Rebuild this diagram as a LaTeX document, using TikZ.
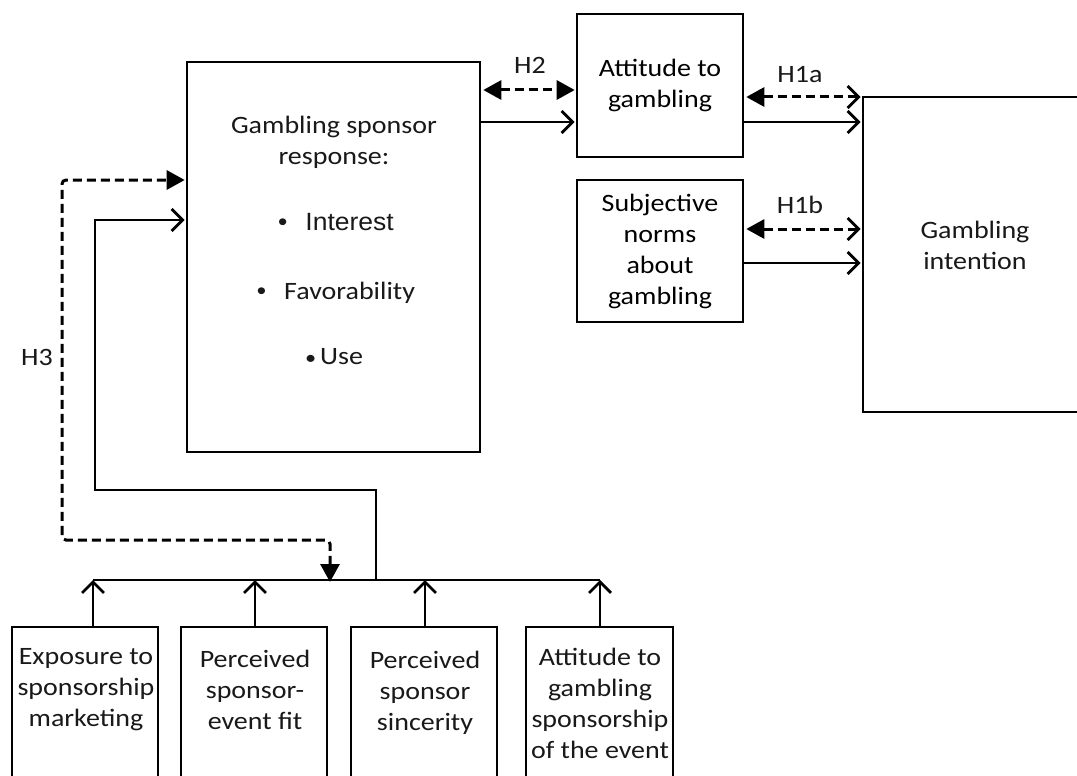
\documentclass[tikz,border=0pt]{standalone}
\usepackage{fontspec}
\setmainfont{Carlito}[FakeStretch=1.12]
\newfontfamily\arialf{Liberation Sans}[FakeStretch=1.06]
\usetikzlibrary{arrows.meta}
\tikzset{
  box/.style={draw, line width=2.6pt, rectangle, inner sep=0pt, align=center, font=\txtfont},
  txt/.style={inner sep=0pt, align=center, font=\txtfont, text=black!90},
  solidarrow/.style={line width=2.8pt, -{Straight Barb[length=11pt,width=22pt,line width=2.8pt]}},
  dsh/.style={line width=3pt, dash pattern=on 9pt off 5pt},
  filltip/.tip={Triangle[length=18pt,width=19pt]},
  openbarb/.tip={Straight Barb[length=11pt,width=22pt,line width=2.8pt]},
  plain/.style={line width=2.8pt}
}
\newcommand{\txtfont}{\fontsize{25}{31}\selectfont}
\begin{document}
\begin{tikzpicture}[x=1pt,y=-1pt]
\useasboundingbox (0,0) rectangle (1077,776);
\fill[white] (0,0) rectangle (1077,776);
\clip (0,0) rectangle (1077,776);
% boxes
\node[box, minimum width=293pt, minimum height=390pt] (gsr) at (333.5,257) {};
\node[box, minimum width=166pt, minimum height=143pt] (att) at (660,85.5) {Attitude to\\gambling};
\node[box, minimum width=166pt, minimum height=142pt] (sn) at (660,251) {Subjective\\norms\\about\\gambling};
\node[box, minimum width=227pt, minimum height=315pt] (int) at (976.5,254.5) {};
\node[box, minimum width=146pt, minimum height=163pt] (b1) at (85,708.5) {};
\node[box, minimum width=146pt, minimum height=163pt] (b2) at (254,708.5) {};
\node[box, minimum width=146pt, minimum height=163pt] (b3) at (424,708.5) {};
\node[box, minimum width=147pt, minimum height=163pt] (b4) at (599.5,708.5) {};
% texts
\node[txt] (gsrtitle) at (334,142) {Gambling sponsor\\response:};
\node[txt, font=\arialf\fontsize{25}{31}\selectfont] (i1) at (336,222) {\textbullet\hspace{18pt}Interest};
\node[txt] (i2) at (336,293) {{\arialf\textbullet}\hspace{18pt}Favorability};
\node[txt] (i3) at (334,357) {{\fontsize{20}{31}\selectfont\textbullet}\hspace{4pt}Use};
\node[txt] (inttxt) at (975,245) {Gambling\\intention};
\node[txt] (t1) at (86,690) {Exposure to\\sponsorship\\marketing};
\node[txt] (t2) at (255,690) {Perceived\\sponsor-\\event fit};
\node[txt] (t3) at (425,693) {Perceived\\sponsor\\sincerity};
\node[txt] (t4) at (600,703) {Attitude to\\gambling\\sponsorship\\of the event};
\node[txt] (h2) at (530,65) {H2};
\node[txt] (h1a) at (800,75) {H1a};
\node[txt] (h1b) at (800,205) {H1b};
\node[txt] (h3) at (37,357) {H3};
% helper coordinates
\coordinate (y90) at (0,90);
\coordinate (y97) at (0,97);
\coordinate (y122) at (0,122);
\coordinate (y229) at (0,229);
\coordinate (y263) at (0,263);
\coordinate (y180) at (0,180);
\coordinate (y220) at (0,220);
\coordinate (hL) at (93,580);
\coordinate (hR) at (600,580);
\coordinate (dJ) at (330,580);
\coordinate (sJ) at (376,580);
\coordinate (dC) at (62,540);
\coordinate (sC) at (95,490);
% connectors top
\draw[dsh, {filltip}-{filltip}] ([xshift=2pt]gsr.east |- y90) -- ([xshift=-1pt]att.west |- y90);
\draw[solidarrow] (gsr.east |- y122) -- ([xshift=-1pt]att.west |- y122);
\draw[dsh, {filltip}-{openbarb}] ([xshift=2pt]att.east |- y97) -- ([xshift=-1pt]int.west |- y97);
\draw[solidarrow] (att.east |- y122) -- ([xshift=-1pt]int.west |- y122);
\draw[dsh, {filltip}-{openbarb}] ([xshift=2pt]sn.east |- y229) -- ([xshift=-1pt]int.west |- y229);
\draw[solidarrow] (sn.east |- y263) -- ([xshift=-1pt]int.west |- y263);
% H3 and feedback lines
\draw[dsh, rounded corners=4pt, {filltip}-{filltip}] ([yshift=-2pt]dJ) |- (dC) |- ([xshift=-1pt]gsr.west |- y180);
\draw[solidarrow] (sJ) |- (sC) |- ([xshift=-1pt]gsr.west |- y220);
\draw[plain] (hL) -- (hR);
% up arrows
\draw[solidarrow] (b1.north -| hL) -- (hL);
\draw[solidarrow] (b2.north -| 255,0) -- (255,580);
\draw[solidarrow] (b3.north -| 425,0) -- (425,580);
\draw[solidarrow] (b4.north -| hR) -- (hR);
\end{tikzpicture}
\end{document}
